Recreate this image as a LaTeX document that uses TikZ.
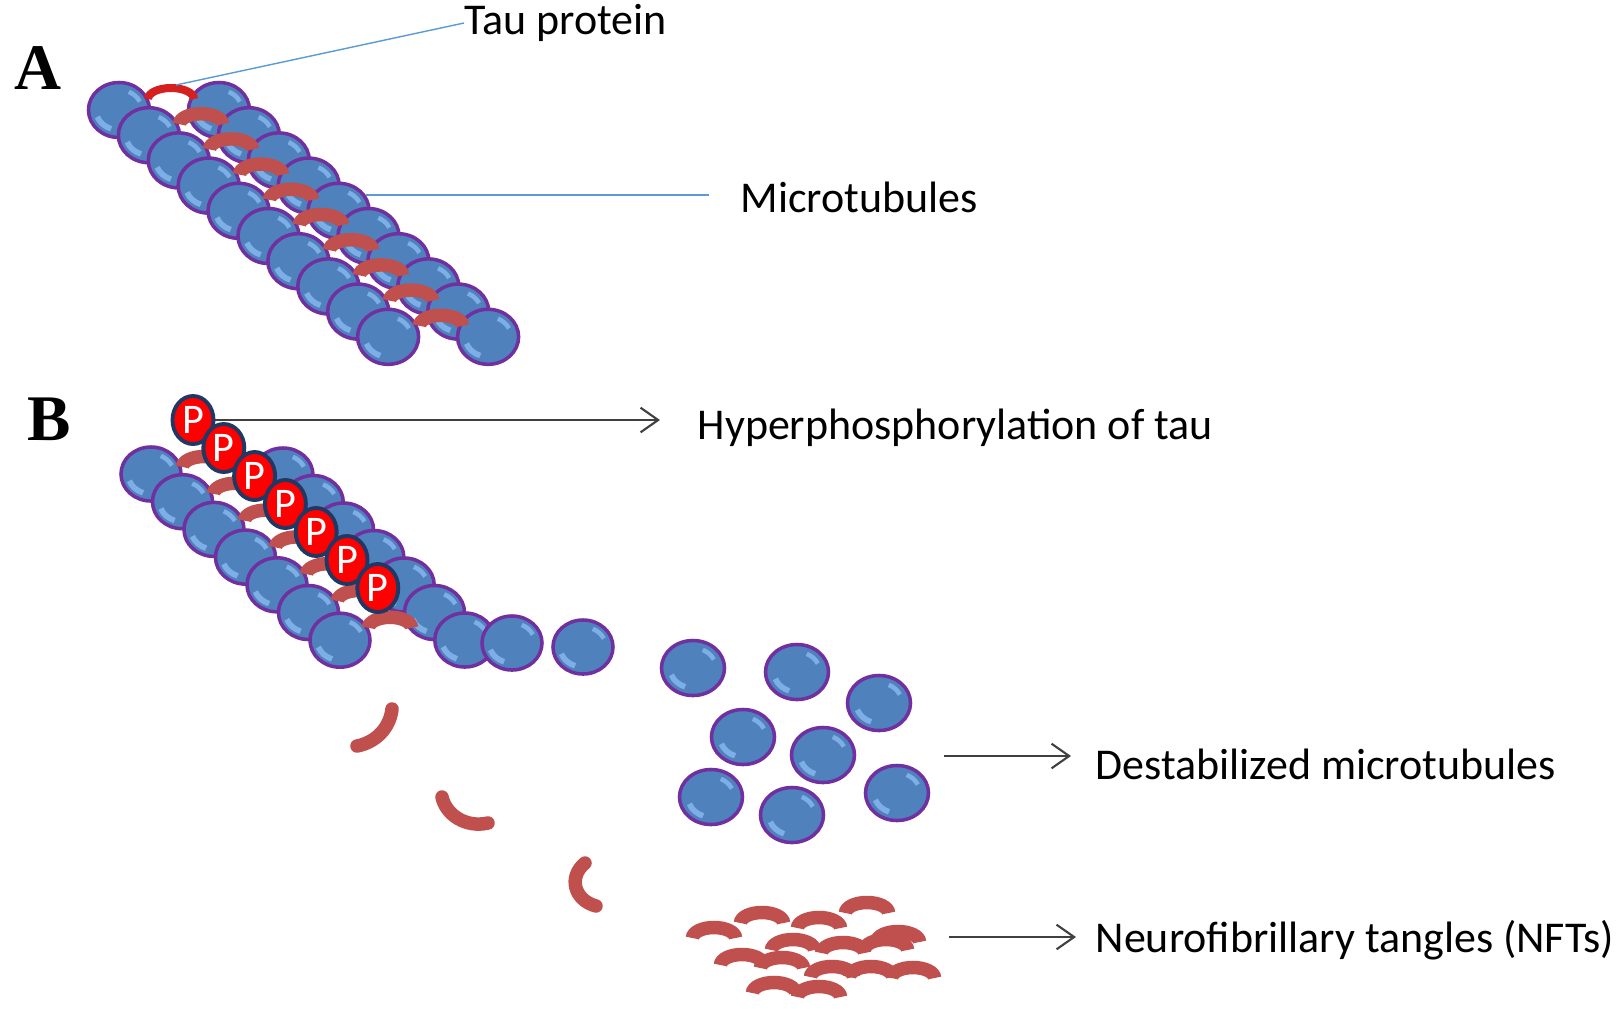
\documentclass[tikz,border=0pt]{standalone}
\usepackage{fontspec}
\setmainfont{Carlito}
\newfontfamily\panelfont{Liberation Serif}
\usetikzlibrary{shapes.geometric}
\usetikzlibrary{arrows.meta}

\definecolor{tubblue}{RGB}{79,129,189}
\definecolor{tubedge}{RGB}{112,48,160}
\definecolor{tubshine}{RGB}{125,175,230}
\definecolor{taured}{RGB}{192,80,77}
\definecolor{taubright}{RGB}{214,32,32}
\definecolor{pred}{RGB}{255,0,0}
\definecolor{pedge}{RGB}{31,56,100}
\definecolor{leadblue}{RGB}{91,155,213}
\definecolor{arrgray}{RGB}{64,64,64}

\tikzset{
    tub/.style={ellipse, draw=tubedge, line width=1pt, fill=tubblue, inner sep=0pt,
        minimum width=0.60cm, minimum height=0.54cm,
        path picture={
            \draw[tubshine, line width=1.6pt] ([shift={(200:0.23cm and 0.20cm)}]path picture bounding box.center)
                arc[start angle=200, end angle=250, x radius=0.23cm, y radius=0.20cm];
            \draw[tubshine, line width=1.3pt] ([shift={(25:0.23cm and 0.20cm)}]path picture bounding box.center)
                arc[start angle=25, end angle=65, x radius=0.23cm, y radius=0.20cm];
        }},
    tuba/.style={tub, minimum width=0.61cm, minimum height=0.55cm},
    tubfree/.style={tub, minimum width=0.63cm, minimum height=0.55cm},
    phos/.style={ellipse, draw=pedge, line width=1.1pt, fill=pred, inner sep=0pt,
        minimum width=0.41cm, minimum height=0.48cm, text=white, font=\fontsize{12}{12}\selectfont},
    tau/.style={taured, line width=0.135cm},
    frag/.style={tau, line cap=round},
    lbl/.style={anchor=west, inner sep=0pt, font=\fontsize{12.5}{15}\selectfont},
    panel/.style={font=\panelfont\bfseries\fontsize{18.5}{20}\selectfont},
    leader/.style={leadblue, line width=0.4pt},
    pointer/.style={arrgray, line width=0.6pt, -{Straight Barb[length=5pt,width=7pt]}},
    tauarc/.pic={\draw[tau] (-0.215cm,0) arc[start angle=180, end angle=0, x radius=0.215cm, y radius=0.105cm];}
}

\begin{document}
\begin{tikzpicture}[x=0.01cm, y=-0.01cm]
    \useasboundingbox (0,0) rectangle (1623,1008);
    \fill[white] (0,0) rectangle (1623,1008);

    \node[panel] (pa) at (38,68) {A};
    \node[panel] (pb) at (49,419) {B};

    % A: stable microtubule
    \foreach \i in {0,...,9} \node[tuba] (la\i) at ({119+29.9*\i},{110+25.2*\i}) {};
    \foreach \i in {0,...,9} \node[tuba] (ra\i) at ({219+29.9*\i},{110+25.2*\i}) {};
    \draw[taubright, line width=0.08cm] (148,99) arc[start angle=180, end angle=0, x radius=0.23cm, y radius=0.11cm];
    \foreach \i in {1,...,9} \pic at ({171+30*\i},{99+25.2*\i}) {tauarc};

    \node[lbl] (taulbl) at (464,23) {Tau protein};
    \coordinate (taupt) at (176,85);
    \draw[leader] (taupt) -- (taulbl.west);
    \node[lbl] (mtlbl) at (740,197) {Microtubules};
    \draw[leader, shorten >=0.31cm] (ra4.30) -- (ra4.30 -| mtlbl.west);

    % B: left and right rows
    \foreach \i in {0,...,6} \node[tub] (lb\i) at ({151+31.5*\i},{474+27.7*\i}) {};
    \foreach \i in {0,...,6} \node[tub] (rb\i) at ({283+30.3*\i},{475+27.5*\i}) {};
    \node[tub] (rb7) at (512,643) {};
    \node[tub] (rb8) at (583,647) {};
    \foreach \i in {0,...,6} \pic at ({204+31*\i},{467+26.8*\i}) {tauarc};
    \foreach \i in {0,...,6} \node[phos] (p\i) at ({193+30.8*\i},{420+28*\i}) {P};

    % B: loose tubulin
    \node[tubfree] (d1) at (693,668) {};
    \node[tubfree] (d2) at (797,672) {};
    \node[tubfree] (d3) at (879,703) {};
    \node[tubfree] (d4) at (743,737) {};
    \node[tubfree] (d5) at (823,755) {};
    \node[tubfree] (d6) at (711,797) {};
    \node[tubfree] (d7) at (792,815) {};
    \node[tubfree] (d8) at (897,793) {};

    % B: falling tau
    \draw[frag] (357,746) .. controls (377,742) and (390,727) .. (392,709);
    \draw[frag] (442,797) .. controls (446,815) and (466,828) .. (488,823);
    \draw[frag] (585,863) .. controls (568,877) and (574,900) .. (596,906);

    % B: tangles
    \foreach \x/\y in {714/938, 762/923, 819/928, 867/913, 886/950, 898/942, 793/950, 843/953,
        742/965, 782/968, 871/977, 832/977, 913/978, 774/993, 819/997}
        \pic at (\x,\y) {tauarc};

    \node[lbl] (hyplbl) at (697,428) {Hyperphosphorylation of tau};
    \draw[pointer, shorten >=0.37cm] (p0.east) -- (p0.east -| hyplbl.west);
    \coordinate (dmpt) at (944,756);
    \node[lbl] (dmlbl) at (1095,764) {Destabilized microtubules};
    \draw[pointer, shorten >=0.24cm] (dmpt) -- (dmpt -| dmlbl.west);
    \coordinate (nftpt) at (949,937);
    \node[lbl] (nftlbl) at (1095,940) {Neurofibrillary tangles (NFTs)};
    \draw[pointer, shorten >=0.19cm] (nftpt) -- (nftpt -| nftlbl.west);
\end{tikzpicture}
\end{document}
